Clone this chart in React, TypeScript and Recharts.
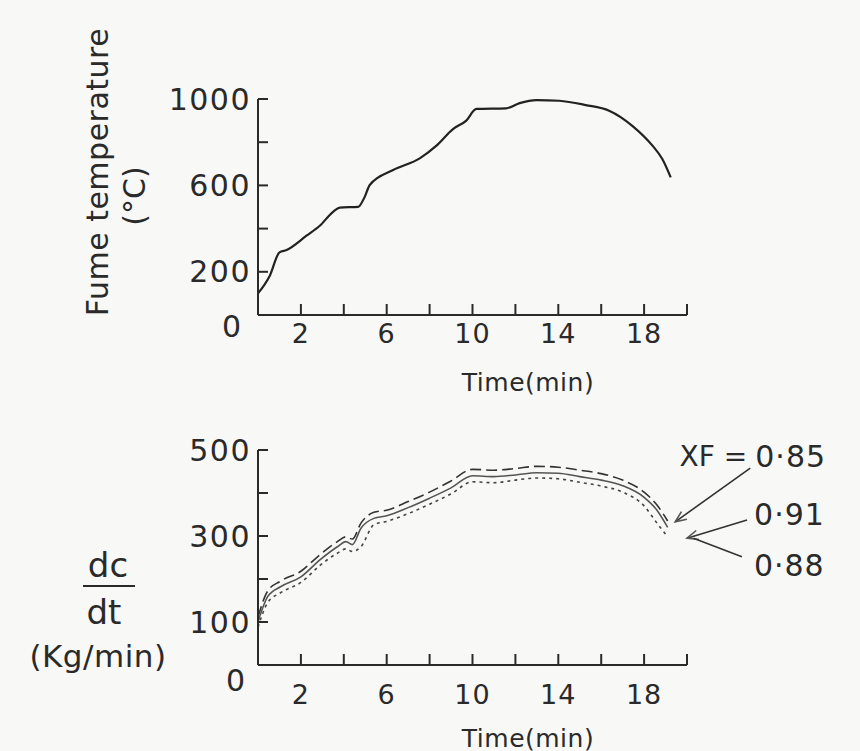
import React from 'react';
import { LineChart, Line, XAxis, YAxis, ReferenceLine } from 'recharts';

// ---- Top panel: fume temperature ----
const tempTime = [0, 0.55, 1.0, 1.33, 2.26, 2.88, 3.5, 3.81, 4.67, 4.98, 5.21, 6.3, 7.54, 8.32, 9.09, 9.71, 10.18, 11.57, 12.2, 12.98, 14.04, 15.28, 16.37, 17.45, 18.39, 18.85, 19.24];
const tempValues = [100, 182, 290, 301, 367, 413, 478, 497, 501, 548, 602, 671, 725, 784, 861, 900, 954, 957, 981, 995, 992, 972, 946, 876, 784, 722, 637];
const tempTicks = [0, 200, 400, 600, 800, 1000];
const tempTickLabels = [1000, 600, 200];

// ---- Bottom panel: dc/dt for three XF values ----
const rateTime = [0, 0.45, 1.05, 2.0, 2.9, 3.7, 4.1, 4.4, 4.8, 5.4, 6.0, 7.0, 8.0, 9.0, 10.0, 11.0, 12.0, 13.0, 14.0, 15.0, 16.0, 17.0, 18.0, 18.6, 19.1];
const rateXF085 = [112, 172, 195, 218, 257, 287, 298, 293, 330, 355, 360, 380, 402, 428, 455, 453, 457, 462, 460, 453, 445, 430, 402, 372, 335];
const rateXF091 = [100, 159, 182, 205, 245, 275, 287, 280, 318, 341, 347, 366, 388, 412, 440, 438, 442, 447, 446, 438, 430, 417, 390, 360, 320];
const rateXF088 = [88, 145, 168, 192, 232, 260, 270, 264, 275, 326, 334, 352, 374, 398, 426, 424, 430, 435, 433, 425, 416, 402, 370, 330, 298];
const rateTicks = [0, 100, 200, 300, 400, 500];
const rateTickLabels = [500, 300, 100];

const timeTicks = [2, 4, 6, 8, 10, 12, 14, 16, 18, 20];
const timeTickLabels = [2, 6, 10, 14, 18];

// annotation arrows (data coordinates): from label to curve end
const xfLabels = ['0·85', '0·91', '0·88'];
const arrowFrom = [[22.95, 458], [22.8, 337], [22.56, 252]];
const arrowTo = [[19.45, 333], [20.0, 295], [20.3, 295]];

const tempData = tempTime.map((t, i) => ({ t, v: tempValues[i] }));
const rateData = rateTime.map((t, i) => ({ t, a: rateXF085[i], b: rateXF091[i], c: rateXF088[i] }));

const FONT = '"DejaVu Sans", sans-serif';
const INK = '#2a2a2a';

const makeYTick = (labels: number[], zeroDx: number, zeroDy: number, fs: number) => (props: any) => {
  const { x, y, payload } = props;
  const v = payload.value;
  return (
    <g>
      {v !== 0 && <line x1={x} y1={y} x2={x + 10} y2={y} stroke={INK} strokeWidth={2} />}
      {v === 0 ? (
        <text x={x + zeroDx} y={y + zeroDy} textAnchor="middle" dominantBaseline="central" fontSize={fs} fontFamily={FONT} fill={INK} letterSpacing={1}>0</text>
      ) : labels.includes(v) ? (
        <text x={x - 7} y={y} textAnchor="end" dominantBaseline="central" fontSize={fs} fontFamily={FONT} fill={INK} letterSpacing={1.5}>{v}</text>
      ) : null}
    </g>
  );
};

const makeXTick = (labelDy: number, fs: number) => (props: any) => {
  const { x, y, payload } = props;
  const v = payload.value;
  return (
    <g>
      {v !== 0 && <line x1={x} y1={y} x2={x} y2={y - 11} stroke={INK} strokeWidth={2} />}
      {timeTickLabels.includes(v) && (
        <text x={x} y={y + labelDy} textAnchor="middle" dominantBaseline="central" fontSize={fs} fontFamily={FONT} fill={INK} letterSpacing={1}>{v}</text>
      )}
    </g>
  );
};

const labelOffsets = [[5, -12], [7, -6], [12, 9]];

const makeArrow = (idx: number, head: boolean) => (props: any) => {
  const { x1, y1, x2, y2 } = props;
  const ang = Math.atan2(y2 - y1, x2 - x1);
  const L = 12;
  const s = 0.4;
  const hx1 = x2 - L * Math.cos(ang - s);
  const hy1 = y2 - L * Math.sin(ang - s);
  const hx2 = x2 - L * Math.cos(ang + s);
  const hy2 = y2 - L * Math.sin(ang + s);
  const [dx, dy] = labelOffsets[idx];
  return (
    <g>
      <line x1={x1} y1={y1} x2={x2} y2={y2} stroke="#333" strokeWidth={1.6} />
      {head && <polyline points={`${hx1},${hy1} ${x2},${y2} ${hx2},${hy2}`} fill="none" stroke="#555" strokeWidth={1.6} />}
      {idx === 0 && (
        <text x={x1 + dx - 8} y={y1 + dy} textAnchor="end" dominantBaseline="central" fontSize={28} fontFamily={FONT} fill={INK}>XF =</text>
      )}
      <text x={x1 + dx} y={y1 + dy} textAnchor="start" dominantBaseline="central" fontSize={30} fontFamily={FONT} fill={INK} letterSpacing={1}>{xfLabels[idx]}</text>
    </g>
  );
};

export default function App() {
  return (
    <div style={{ position: 'absolute', left: 0, top: 0, width: 860, height: 751, background: '#f8f8f7', overflow: 'hidden' }}>
      <div style={{ position: 'absolute', left: 0, top: 0 }}>
        <LineChart width={860} height={400} data={tempData} margin={{ top: 99, right: 173, bottom: 55, left: 198 }}>
          <XAxis dataKey="t" type="number" domain={[0, 20]} ticks={timeTicks} interval={0} height={30}
            axisLine={{ stroke: INK, strokeWidth: 2 }} tickLine={false} tickSize={0} tickMargin={0}
            tick={makeXTick(18, 27)} />
          <YAxis type="number" domain={[0, 1000]} ticks={tempTicks} interval={0} width={60}
            axisLine={{ stroke: INK, strokeWidth: 2 }} tickLine={false} tickSize={0} tickMargin={0}
            tick={makeYTick(tempTickLabels, -26, 11, 30)} />
          <Line dataKey="v" type="monotone" stroke="#222" strokeWidth={2.2} dot={false} isAnimationActive={false} />
        </LineChart>
      </div>
      <div style={{ position: 'absolute', left: 0, top: 400 }}>
        <LineChart width={860} height={351} data={rateData} margin={{ top: 50, right: 173, bottom: 56, left: 198 }}>
          <XAxis dataKey="t" type="number" domain={[0, 20]} ticks={timeTicks} interval={0} height={30}
            axisLine={{ stroke: INK, strokeWidth: 2 }} tickLine={false} tickSize={0} tickMargin={0}
            tick={makeXTick(29, 27)} />
          <YAxis type="number" domain={[0, 500]} ticks={rateTicks} interval={0} width={60}
            axisLine={{ stroke: INK, strokeWidth: 2 }} tickLine={false} tickSize={0} tickMargin={0}
            tick={makeYTick(rateTickLabels, -22, 15, 30)} />
          <Line dataKey="a" type="monotone" stroke="#333" strokeWidth={1.6} strokeDasharray="11 5" dot={false} isAnimationActive={false} />
          <Line dataKey="b" type="monotone" stroke="#555" strokeWidth={1.6} dot={false} isAnimationActive={false} />
          <Line dataKey="c" type="monotone" stroke="#444" strokeWidth={1.6} strokeDasharray="3 4" dot={false} isAnimationActive={false} />
          {xfLabels.map((lab, i) => (
            <ReferenceLine key={lab} ifOverflow="visible"
              segment={[{ x: arrowFrom[i][0], y: arrowFrom[i][1] }, { x: arrowTo[i][0], y: arrowTo[i][1] }]}
              shape={makeArrow(i, i < 2)} />
          ))}
        </LineChart>
      </div>
      <svg width={860} height={751} style={{ position: 'absolute', left: 0, top: 0, pointerEvents: 'none' }}>
        <g fontFamily={FONT} fill={INK}>
          <text transform="translate(97,172) rotate(-90)" textAnchor="middle" dominantBaseline="central" fontSize={30} letterSpacing={0.5}>Fume temperature</text>
          <text transform="translate(134,196) rotate(-90)" textAnchor="middle" dominantBaseline="central" fontSize={30}>(°C)</text>
          <text x={528} y={382} textAnchor="middle" dominantBaseline="central" fontSize={25} letterSpacing={0.5}>Time(min)</text>
          <text x={528} y={738} textAnchor="middle" dominantBaseline="central" fontSize={25} letterSpacing={0.5}>Time(min)</text>
          <text x={108} y={565} textAnchor="middle" dominantBaseline="central" fontSize={34}>dc</text>
          <line x1={83} y1={586} x2={135} y2={586} stroke={INK} strokeWidth={2} />
          <text x={104} y={612} textAnchor="middle" dominantBaseline="central" fontSize={34}>dt</text>
          <text x={98} y={656} textAnchor="middle" dominantBaseline="central" fontSize={31} letterSpacing={0.5}>(Kg/min)</text>
        </g>
      </svg>
    </div>
  );
}
